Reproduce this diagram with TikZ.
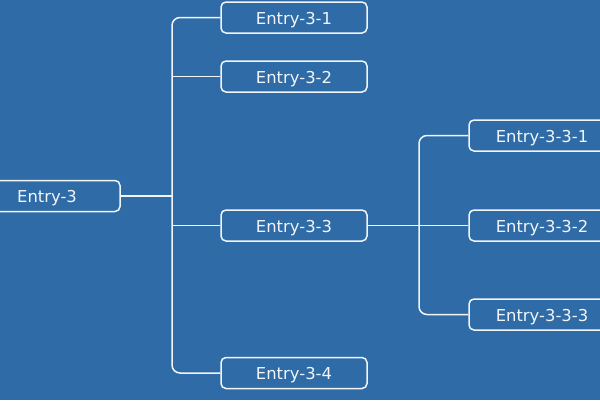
\documentclass[tikz,border=0pt]{standalone}
\usepackage{fontspec}
\setmainfont{DejaVu Sans}
\definecolor{bg}{HTML}{2E6BA7}
\definecolor{ln}{HTML}{F2F5F8}
\begin{document}
\begin{tikzpicture}[x=1pt,y=1pt,
  entry/.style={draw=ln, line width=1.5pt, rounded corners=5pt, text=ln,
    minimum width=146pt, minimum height=31pt, inner sep=0pt,
    text height=13pt, text depth=0pt,
    font=\fontsize{16.4}{19}\selectfont},
  conn/.style={draw=ln, line width=1.5pt}]
\clip (0,0) rectangle (600,-400);
\fill[bg] (0,0) rectangle (600,-400);
\node[entry] (e3) at (47,-196) {Entry-3};
\node[entry] (e31) at (294,-17.5) {Entry-3-1};
\node[entry] (e32) at (294,-76.5) {Entry-3-2};
\node[entry] (e33) at (294,-225.5) {Entry-3-3};
\node[entry] (e34) at (294,-373) {Entry-3-4};
\node[entry] (e331) at (542,-135.5) {Entry-3-3-1};
\node[entry] (e332) at (542,-225.5) {Entry-3-3-2};
\node[entry] (e333) at (542,-314.5) {Entry-3-3-3};
\coordinate (ta) at (172,0);
\coordinate (tb) at (419,0);
\draw[conn, rounded corners=8pt] (e31.west) -- (e31.west -| ta) -- (e34.west -| ta) -- (e34.west);
\draw[conn] (e3.east) -- (e3.east -| ta);
\draw[conn] (e32.west) -- (e32.west -| ta);
\draw[conn] (e33.west) -- (e33.west -| ta);
\draw[conn, rounded corners=8pt] (e331.west) -- (e331.west -| tb) -- (e333.west -| tb) -- (e333.west);
\draw[conn] (e33.east) -- (e332.west);
\end{tikzpicture}
\end{document}
